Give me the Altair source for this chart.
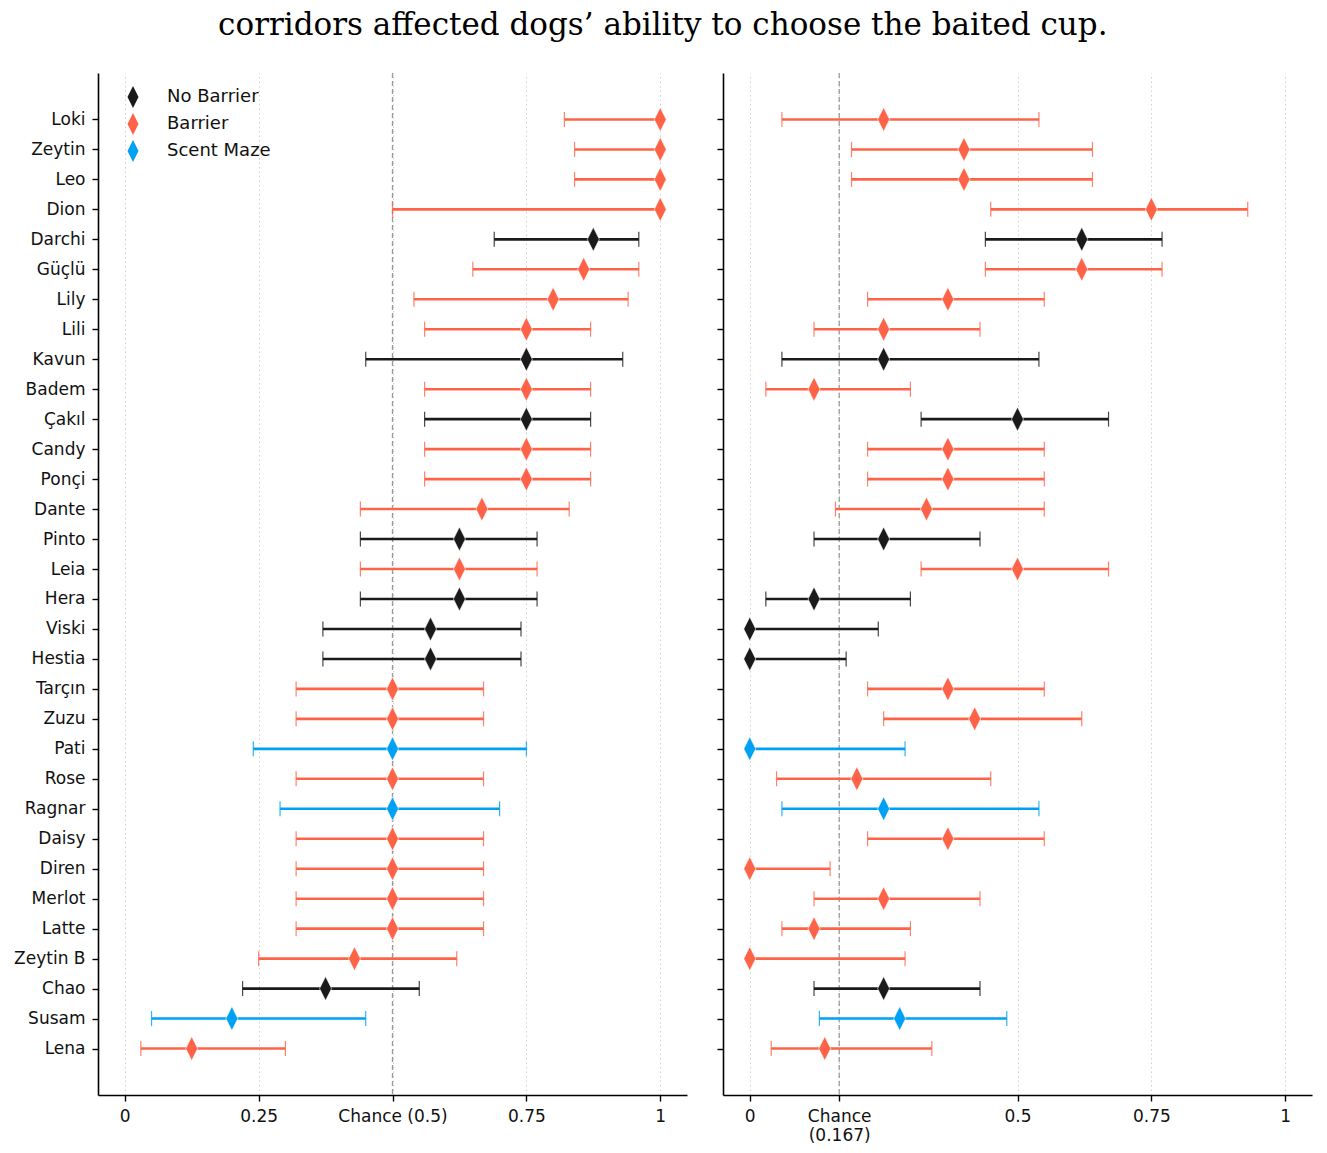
import altair as alt
import pandas as pd

dogs = ["Loki", "Zeytin", "Leo", "Dion", "Darchi", "Güçlü", "Lily", "Lili", "Kavun",
        "Badem", "Çakıl", "Candy", "Ponçi", "Dante", "Pinto", "Leia", "Hera", "Viski",
        "Hestia", "Tarçın", "Zuzu", "Pati", "Rose", "Ragnar", "Daisy", "Diren",
        "Merlot", "Latte", "Zeytin B", "Chao", "Susam", "Lena"]

condition = ["Barrier", "Barrier", "Barrier", "Barrier", "No Barrier", "Barrier", "Barrier",
             "Barrier", "No Barrier", "Barrier", "No Barrier", "Barrier", "Barrier", "Barrier",
             "No Barrier", "Barrier", "No Barrier", "No Barrier", "No Barrier", "Barrier",
             "Barrier", "Scent Maze", "Barrier", "Scent Maze", "Barrier", "Barrier", "Barrier",
             "Barrier", "Barrier", "No Barrier", "Scent Maze", "Barrier"]

# Left panel (two-cup task, chance 0.5)
left_pt = [1.0, 1.0, 1.0, 1.0, 0.875, 0.857, 0.8, 0.75, 0.75, 0.75, 0.75, 0.75, 0.75, 0.667,
           0.625, 0.625, 0.625, 0.571, 0.571, 0.5, 0.5, 0.5, 0.5, 0.5, 0.5, 0.5, 0.5, 0.5,
           0.429, 0.375, 0.2, 0.125]
left_lo = [0.821, 0.84, 0.84, 0.5, 0.69, 0.65, 0.54, 0.56, 0.45, 0.56, 0.56, 0.56, 0.56, 0.44,
           0.44, 0.44, 0.44, 0.37, 0.37, 0.32, 0.32, 0.24, 0.32, 0.29, 0.32, 0.32, 0.32, 0.32,
           0.25, 0.22, 0.05, 0.03]
left_hi = [1.0, 1.0, 1.0, 1.0, 0.96, 0.96, 0.94, 0.87, 0.93, 0.87, 0.87, 0.87, 0.87, 0.83,
           0.77, 0.77, 0.77, 0.74, 0.74, 0.67, 0.67, 0.75, 0.67, 0.70, 0.67, 0.67, 0.67, 0.67,
           0.62, 0.55, 0.45, 0.30]

# Right panel (six-cup task, chance 0.167)
right_pt = [0.25, 0.40, 0.40, 0.75, 0.62, 0.62, 0.37, 0.25, 0.25, 0.12, 0.50, 0.37, 0.37, 0.33,
            0.25, 0.50, 0.12, 0.0, 0.0, 0.37, 0.42, 0.0, 0.20, 0.25, 0.37, 0.0, 0.25, 0.12,
            0.0, 0.25, 0.28, 0.14]
right_lo = [0.06, 0.19, 0.19, 0.45, 0.44, 0.44, 0.22, 0.12, 0.06, 0.03, 0.32, 0.22, 0.22, 0.16,
            0.12, 0.32, 0.03, 0.0, 0.0, 0.22, 0.25, 0.0, 0.05, 0.06, 0.22, 0.0, 0.12, 0.06,
            0.0, 0.12, 0.13, 0.04]
right_hi = [0.54, 0.64, 0.64, 0.93, 0.77, 0.77, 0.55, 0.43, 0.54, 0.30, 0.67, 0.55, 0.55, 0.55,
            0.43, 0.67, 0.30, 0.24, 0.18, 0.55, 0.62, 0.29, 0.45, 0.54, 0.55, 0.15, 0.43, 0.30,
            0.29, 0.43, 0.48, 0.34]

left_ticks = [0, 0.25, 0.5, 0.75, 1]
right_ticks = [0, 0.167, 0.5, 0.75, 1]
cond_order = ["No Barrier", "Barrier", "Scent Maze"]
cond_colors = ["#1a1a1a", "#ff6347", "#00a0f5"]
title_text = "corridors affected dogs’ ability to choose the baited cup."

DIAMOND = "M0,-1L0.5,0L0,1L-0.5,0Z"
W, H = 589, 1022
N = len(dogs)
MARGIN = 0.05 * (N - 1)
name_expr = "[" + ",".join("'" + d + "'" for d in dogs) + "][datum.value]"


def panel(pt, lo, hi, ticks, chance, label_expr, show_labels, show_legend):
    df = pd.DataFrame({"idx": list(range(N)), "dog": dogs, "cond": condition,
                       "pt": pt, "lo": lo, "hi": hi})
    ysc = alt.Scale(domain=[-MARGIN, N - 1 + MARGIN], reverse=True, nice=False, zero=False)
    xsc = alt.Scale(domain=[-0.05, 1.05], nice=False, zero=False)
    csc = alt.Scale(domain=cond_order, range=cond_colors)
    color = alt.Color(
        "cond:N", scale=csc,
        legend=alt.Legend(
            title=None, orient="none", legendX=24, legendY=13, symbolType=DIAMOND,
            symbolSize=484, symbolStrokeWidth=0, labelFont="DejaVu Sans", labelFontSize=18,
            labelColor="#111", labelOffset=23, rowPadding=5, padding=0,
            symbolOpacity=1) if show_legend else None,
    )
    color_nl = alt.Color("cond:N", scale=csc, legend=None)
    yaxis = alt.Axis(title=None, labels=show_labels, ticks=True, tickSize=6,
                     values=list(range(N)), labelExpr=name_expr,
                     labelOverlap=False, labelPadding=7, grid=False)
    xaxis = alt.Axis(title=None, values=ticks, labelExpr=label_expr, labelOverlap=False,
                     grid=True, gridDash=[1.5, 3], gridColor="#d0d0d0", gridWidth=1,
                     tickSize=6, labelPadding=7, labelLineHeight=19)
    Y = alt.Y("idx:Q", scale=ysc, axis=yaxis)

    def X(f):
        return alt.X(f, scale=xsc, axis=xaxis)

    base = alt.Chart(df)
    chance_rule = alt.Chart(pd.DataFrame({"c": [chance]})).mark_rule(
        color="#9a9a9a", strokeDash=[5, 3], strokeWidth=1.3
    ).encode(x=X("c:Q"))
    bars = base.mark_rule(strokeWidth=2.6).encode(
        x=X("lo:Q"), x2="hi:Q", y=Y, color=color)
    cap_lo = base.mark_tick(orient="vertical", size=15, thickness=1.2, opacity=0.8).encode(
        x=X("lo:Q"), y=Y, color=color_nl)
    cap_hi = base.mark_tick(orient="vertical", size=15, thickness=1.2, opacity=0.8).encode(
        x=X("hi:Q"), y=Y, color=color_nl)
    pts = base.mark_point(shape=DIAMOND, size=576, filled=True, opacity=1,
                          stroke="white", strokeWidth=0.6).encode(
        x=X("pt:Q"), y=Y, color=color)
    return alt.layer(chance_rule, bars, cap_lo, cap_hi, pts).properties(width=W, height=H)


left = panel(left_pt, left_lo, left_hi, left_ticks, 0.5,
             "datum.value == 0.5 ? 'Chance (0.5)' : format(datum.value, '~g')", True, True)
right = panel(right_pt, right_lo, right_hi, right_ticks, 0.167,
              "datum.value == 0.167 ? ['Chance', '(0.167)'] : format(datum.value, '~g')",
              False, False)

chart = alt.hconcat(left, right, spacing=29).resolve_scale(
    color="independent").resolve_legend(color="independent").properties(
    title=alt.TitleParams(text=title_text, font="DejaVu Serif", fontSize=31,
                          fontWeight="normal", color="#000", anchor="middle", offset=30),
    padding={"left": 13, "top": 10, "right": 8, "bottom": 4},
).configure_view(stroke=None).configure_axis(
    labelFont="DejaVu Sans", labelFontSize=17, labelColor="#111",
    domainColor="#000", domainWidth=1.6, tickColor="#000", tickWidth=1.4,
)

chart.save("out.html", embed_options={"renderer": "svg", "actions": False})
